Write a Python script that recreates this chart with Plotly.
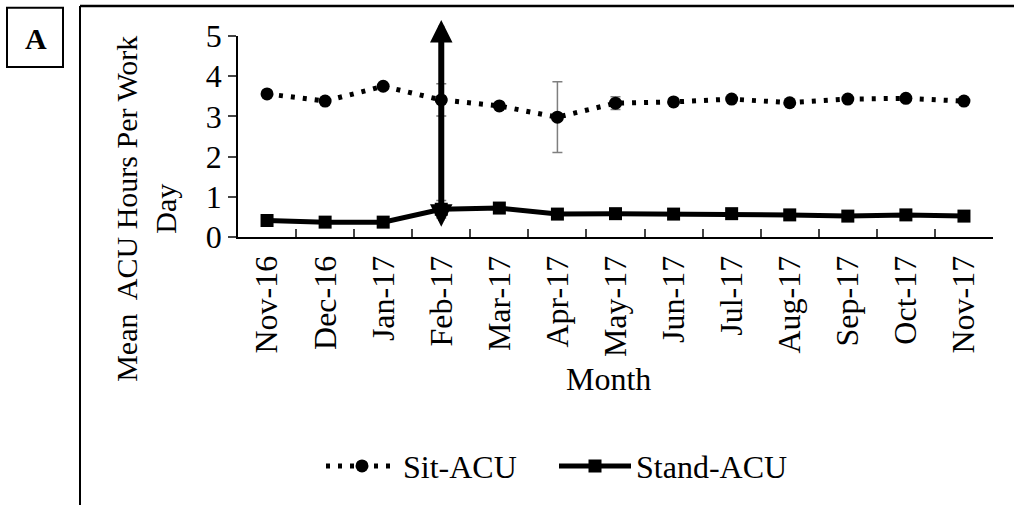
import plotly.graph_objects as go

months = ["Nov-16", "Dec-16", "Jan-17", "Feb-17", "Mar-17", "Apr-17", "May-17",
          "Jun-17", "Jul-17", "Aug-17", "Sep-17", "Oct-17", "Nov-17"]
sit_acu = [3.56, 3.38, 3.75, 3.41, 3.26, 2.98, 3.33, 3.36, 3.43, 3.34, 3.43, 3.45, 3.38]
sit_err = [0, 0, 0, 0.40, 0, 0.88, 0.16, 0, 0, 0, 0, 0, 0]
stand_acu = [0.41, 0.37, 0.37, 0.69, 0.72, 0.57, 0.58, 0.57, 0.58, 0.55, 0.52, 0.55, 0.52]
stand_err = [0, 0, 0, 0.22, 0, 0, 0, 0, 0, 0, 0, 0, 0]
# double-headed arrow drawn over the Feb-17 point (value range it spans)
arrow_month = "Feb-17"
arrow_low, arrow_high = 0.22, 5.40

W, H = 1014, 505
L, R, T, B = 238, 21, 36, 262
pw, ph = W - L - R, H - T - B

def px(x):
    return (x - L) / pw

def py(y):
    return (H - B - y) / ph

FONT = "Liberation Serif"

fig = go.Figure()
fig.add_trace(go.Scatter(
    x=months, y=sit_acu, name="Sit-ACU", mode="lines+markers",
    line=dict(color="black", width=5, dash="4px,8px"),
    marker=dict(symbol="circle", size=13, color="black"),
    error_y=dict(type="data", array=sit_err, visible=True, color="#7f7f7f",
                 thickness=1.5, width=5),
    cliponaxis=False,
))
fig.add_trace(go.Scatter(
    x=months, y=stand_acu, name="Stand-ACU", mode="lines+markers",
    line=dict(color="black", width=5),
    marker=dict(symbol="square", size=13, color="black"),
    error_y=dict(type="data", array=stand_err, visible=True, color="#7f7f7f",
                 thickness=1.5, width=5),
    cliponaxis=False,
))

fig.add_annotation(x=arrow_month, y=arrow_high, ax=arrow_month, ay=arrow_low,
                   xref="x", yref="y", axref="x", ayref="y", text="",
                   showarrow=True, arrowhead=2, startarrowhead=2,
                   arrowside="end+start", arrowwidth=6, arrowsize=0.75,
                   startarrowsize=0.75, arrowcolor="black")

# axis titles
fig.add_annotation(x=px(146), y=py(214), xref="paper", yref="paper",
                   text="Mean\u00a0 ACU Hours Per Work<br>Day", textangle=-90,
                   showarrow=False, font=dict(family=FONT, size=30, color="black"),
                   xanchor="center", yanchor="middle")
fig.add_annotation(x=px(608), y=py(389), xref="paper", yref="paper",
                   text="Month", showarrow=False,
                   font=dict(family=FONT, size=32, color="black"),
                   xanchor="center", yanchor="middle")
# panel label
fig.add_shape(type="rect", xref="paper", yref="paper",
              x0=px(7), x1=px(63), y0=py(68), y1=py(7),
              line=dict(color="black", width=2))
fig.add_annotation(x=px(36), y=py(39), xref="paper", yref="paper",
                   text="<b>A</b>", showarrow=False,
                   font=dict(family=FONT, size=30, color="black"),
                   xanchor="center", yanchor="middle")
# outer frame (left and top edges)
fig.add_shape(type="line", xref="paper", yref="paper",
              x0=px(80), x1=px(80), y0=py(560), y1=py(5),
              line=dict(color="black", width=2))
fig.add_shape(type="line", xref="paper", yref="paper",
              x0=px(80), x1=px(1030), y0=py(5), y1=py(5),
              line=dict(color="black", width=2.5))

fig.update_layout(
    width=W, height=H,
    margin=dict(l=L, r=R, t=T, b=B),
    paper_bgcolor="white", plot_bgcolor="white",
    font=dict(family=FONT, size=32, color="black"),
    showlegend=True,
    legend=dict(orientation="h", x=px(321), y=py(479), xanchor="left",
                yanchor="middle", font=dict(family=FONT, size=32),
                itemwidth=72, entrywidth=146, entrywidthmode="pixels",
                bgcolor="rgba(0,0,0,0)"),
    xaxis=dict(type="category", range=[-0.5, 12.5], tickangle=-90,
               tickson="boundaries", ticks="inside", ticklen=8, tickwidth=1.5,
               showline=True, linecolor="black", linewidth=2, showgrid=False,
               zeroline=False, tickfont=dict(family=FONT, size=32),
               ticklabelstandoff=4),
    yaxis=dict(range=[0, 5], tickvals=[0, 1, 2, 3, 4, 5], ticks="outside",
               ticklen=8, tickwidth=1.5, showline=True, linecolor="black",
               linewidth=1.5, showgrid=False, zeroline=False,
               tickfont=dict(family=FONT, size=32)),
)

fig.write_html("out.html")
